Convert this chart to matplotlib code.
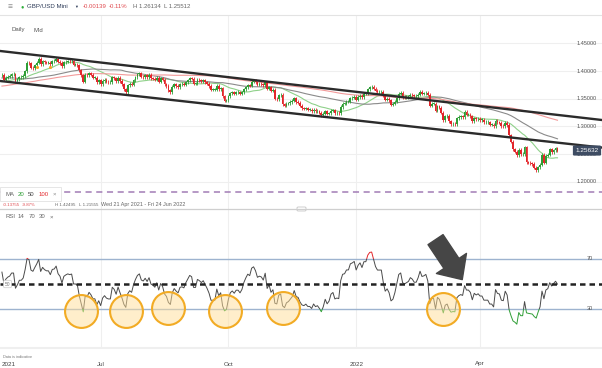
import numpy as np
import pandas as pd
import matplotlib
matplotlib.use("Agg")
import matplotlib.pyplot as plt
from matplotlib.patches import Rectangle, FancyArrowPatch, ArrowStyle, FancyBboxPatch

plt.rcParams['font.family'] = ['Liberation Sans', 'DejaVu Sans']

# GBP/USD Mini, daily closes on weekdays from 1 Dec 2020 to 27 May 2022
# (the bars before 21 Apr 2021 only feed the moving averages and the RSI)
close_px = [
    1.340, 1.343, 1.346, 1.343, 1.338, 1.337, 1.336, 1.328, 1.323, 1.334, 1.344, 1.352,
    1.362, 1.351, 1.345, 1.342, 1.352, 1.355, 1.355, 1.344, 1.347, 1.366, 1.368,            # Dec 20
    1.368, 1.357, 1.361, 1.360, 1.356, 1.356, 1.351, 1.366, 1.366, 1.368, 1.359, 1.359,
    1.363, 1.367, 1.373, 1.368, 1.367, 1.372, 1.370, 1.376, 1.371,                          # Jan 21
    1.367, 1.365, 1.367, 1.365, 1.373, 1.377, 1.383, 1.383, 1.383, 1.387, 1.393, 1.389,
    1.389, 1.397, 1.401, 1.404, 1.410, 1.415, 1.394, 1.393,                                 # Feb 21
    1.394, 1.395, 1.396, 1.389, 1.384, 1.382, 1.389, 1.393, 1.399, 1.393, 1.391, 1.389,
    1.396, 1.393, 1.387, 1.385, 1.374, 1.373, 1.378, 1.379, 1.376, 1.376, 1.378,            # Mar 21
    1.383, 1.384, 1.388, 1.386, 1.375, 1.370, 1.370, 1.375, 1.377, 1.377, 1.379, 1.384,
    1.396, 1.392,                                                                           # Apr 1-20
    1.393, 1.384, 1.388, 1.390, 1.391, 1.394, 1.394, 1.382,                                 # Apr 21-30
    1.385, 1.389, 1.389, 1.391, 1.3995, 1.415, 1.414, 1.406, 1.405, 1.410, 1.415, 1.422,
    1.412, 1.418, 1.416, 1.415, 1.415, 1.412, 1.418, 1.4185, 1.422,                        # May 21
    1.4165, 1.4145, 1.409, 1.4155, 1.417, 1.418, 1.4175, 1.418, 1.411, 1.411, 1.410, 1.401,
    1.3925, 1.3805, 1.393, 1.392, 1.396, 1.393, 1.388, 1.388, 1.380, 1.383,                 # Jun 21
    1.376, 1.382, 1.384, 1.381, 1.380, 1.380, 1.389, 1.387, 1.382, 1.388, 1.382, 1.376,
    1.367, 1.362, 1.374, 1.377, 1.375, 1.383, 1.389, 1.394, 1.396, 1.390,                   # Jul 21
    1.389, 1.392, 1.389, 1.393, 1.387, 1.386, 1.384, 1.388, 1.381, 1.387, 1.384, 1.376,
    1.373, 1.365, 1.362, 1.372, 1.376, 1.373, 1.371, 1.376, 1.3765, 1.3755,                 # Aug 21
    1.380, 1.3835, 1.387, 1.386, 1.377, 1.377, 1.384, 1.383, 1.3815, 1.383, 1.380, 1.377,
    1.373, 1.366, 1.366, 1.366, 1.373, 1.367, 1.369, 1.354, 1.346, 1.347,                   # Sep 21
    1.3545, 1.360, 1.3615, 1.359, 1.3615, 1.3615, 1.359, 1.3615, 1.367, 1.371, 1.3745,
    1.3735, 1.381, 1.3825, 1.380, 1.3755, 1.3765, 1.376, 1.374, 1.3795, 1.368,              # Oct 21
    1.371, 1.364, 1.366, 1.350, 1.349, 1.356, 1.357, 1.340, 1.337, 1.341, 1.342, 1.344,
    1.346, 1.351, 1.344, 1.343, 1.337, 1.333, 1.332, 1.333, 1.330, 1.330,                   # Nov 21
    1.3275, 1.330, 1.327, 1.3275, 1.3245, 1.3205, 1.323, 1.327, 1.3225, 1.324, 1.328,
    1.329, 1.3235, 1.324, 1.3235, 1.335, 1.3405, 1.341, 1.3445, 1.3445, 1.3505, 1.3515,
    1.353,                                                                                  # Dec 21
    1.3485, 1.353, 1.3555, 1.353, 1.359, 1.359, 1.367, 1.371, 1.3715, 1.368, 1.364, 1.362,
    1.362, 1.362, 1.355, 1.3485, 1.350, 1.347, 1.3395, 1.3405, 1.3445,                      # Jan 22
    1.351, 1.359, 1.3605, 1.353, 1.352, 1.353, 1.354, 1.357, 1.356, 1.354, 1.354, 1.357,
    1.362, 1.359, 1.3595, 1.3605, 1.357, 1.3375, 1.341, 1.341,                              # Feb 22
    1.328, 1.3365, 1.334, 1.325, 1.3115, 1.318, 1.319, 1.3095, 1.3035, 1.304, 1.3035,
    1.315, 1.317, 1.318, 1.317, 1.326, 1.321, 1.321, 1.3185, 1.3095, 1.315, 1.313, 1.314,   # Mar 22
    1.3115, 1.3115, 1.307, 1.307, 1.307, 1.303, 1.303, 1.300, 1.3105, 1.307, 1.3065,
    1.3005, 1.300, 1.306, 1.3025, 1.284, 1.272, 1.2585, 1.2545, 1.248, 1.2575,              # Apr 22
    1.2495, 1.2495, 1.2625, 1.2355, 1.234, 1.233, 1.232, 1.225, 1.2205, 1.226, 1.231,
    1.249, 1.2345, 1.247, 1.249, 1.2585, 1.253, 1.257, 1.2605, 1.25632,                     # May 22
]
first_day = '2021-04-21'
ma_periods = [20, 50, 100]
rsi_period = 14

# trend channel drawn on the chart: (date, price) anchors
upper_line = [('2021-04-21', 1.4358), ('2022-05-27', 1.3207)]
lower_line = [('2021-04-21', 1.3816), ('2022-05-27', 1.2706)]
alert_level = 1.181
event_marks = [('2021-05-17', 1.407), ('2021-05-26', 1.407)]

price_ticks = [1.20, 1.25, 1.30, 1.35, 1.40, 1.45]
month_ticks = ['2021-07-01', '2021-10-01', '2022-01-03', '2022-04-01']
month_labels = ['Jul', 'Oct', '2022', 'Apr']

# RSI dips circled on the chart, and the arrow
rsi_circles = [('2021-06-17', 28.5), ('2021-07-20', 28.5), ('2021-08-19', 30.8),
               ('2021-09-29', 28.5), ('2021-11-10', 30.5), ('2022-03-07', 30.0)]
arrow_from = ('2022-03-01', 85.5)
arrow_to = ('2022-03-18', 53.5)

GREEN = '#2f9e36'
RED = '#e3262b'
GRID = '#efefef'

dates = pd.bdate_range('2020-12-01', '2022-05-27')
s = pd.Series(close_px, index=dates)
mas = {n: s.rolling(n).mean() for n in ma_periods}
delta = s.diff()
gain = delta.clip(lower=0).ewm(alpha=1 / rsi_period, adjust=False).mean()
loss = (-delta.clip(upper=0)).ewm(alpha=1 / rsi_period, adjust=False).mean()
rsi = 100 - 100 / (1 + gain / loss)

vis = dates >= first_day
d = dates[vis]
x = np.arange(len(d))
c = s[vis].values
o = s.shift(1)[vis].values


def ix(day):
    return d.get_loc(pd.Timestamp(day))


W, H = 602, 368
fig = plt.figure(figsize=(W / 100, H / 100), dpi=100)


def fx(px):
    return px / W


def fy(py):
    return 1 - py / H


ax = fig.add_axes([0, fy(209), 1, fy(15) - fy(209)])
ax2 = fig.add_axes([0, fy(348), 1, fy(209) - fy(348)])
for a in (ax, ax2):
    a.set_xlim(-1, 310)
    for sp in a.spines.values():
        sp.set_visible(False)
    a.set_xticks([])
    a.set_yticks([])
    for t in month_ticks:
        a.axvline(ix(t), color=GRID, lw=0.8, zorder=0)

ax.set_ylim(1.1507, 1.5012)
ax2.set_ylim(-1.2, 110)

# price panel
for p in price_ticks:
    ax.axhline(p, color=GRID, lw=0.8, zorder=0)
    ax.text(fx(587), p, f'{p:.5f}', transform=ax.get_yaxis_transform(), ha='center',
            va='center', fontsize=4, color='#555555')

up = c >= o
col = np.where(up, GREEN, RED)
body_lo = np.minimum(o, c)
body_h = np.maximum(np.abs(c - o), 0.0009)
ax.vlines(x, body_lo - 0.0028, body_lo + body_h + 0.0028, colors=col, lw=0.6, zorder=3)
ax.bar(x, body_h, bottom=body_lo, width=0.9, color=col, lw=0, zorder=3)

ma_cols = {20: '#8fd18a', 50: '#8a8a8a', 100: '#f29a9a'}
for n in ma_periods:
    ax.plot(x, mas[n][vis].values, color=ma_cols[n], lw=0.8, zorder=2)

for a_pts in (upper_line, lower_line):
    (d1, p1), (d2, p2) = a_pts
    ax.axline((ix(d1), p1), (ix(d2), p2), color='#2b2b2b', lw=1.7, zorder=4)

ax.axhline(alert_level, color='#a27cb5', lw=1.1, dashes=(4, 3), zorder=2)
ax.scatter([ix(e[0]) for e in event_marks], [e[1] for e in event_marks], s=5,
           color='#f5a623', zorder=5, lw=0)

ax.text(fx(587), c[-1], f'{c[-1]:.5f}', transform=ax.get_yaxis_transform(), ha='center',
        va='center', fontsize=4.6, color='white', zorder=6,
        bbox=dict(boxstyle='round,pad=0.4,rounding_size=0.2', fc='#3e4c63', ec='none'))

# RSI panel
r = rsi[vis].values
for lo_, hi_, colr in [(30, 70, '#4a4a4a'), (70, 200, RED), (-50, 30, GREEN)]:
    ln, = ax2.plot(x, r, color=colr, lw=0.7, zorder=3)
    ln.set_clip_path(Rectangle((-10, lo_), 400, hi_ - lo_, transform=ax2.transData))

for lvl in (70, 30):
    ax2.axhline(lvl, color='#9db3cf', lw=1.0, zorder=2)
    ax2.text(fx(590), lvl, str(lvl), transform=ax2.get_yaxis_transform(), ha='center',
             va='center', fontsize=4, color='#555555')
ax2.axhline(0, color=GRID, lw=0.8, zorder=0)
ax2.axhline(50, color='#222222', lw=1.8, dashes=(2.2, 1.6), zorder=4)
ax2.text(fx(7.5), 50, '50', transform=ax2.get_yaxis_transform(), ha='center', va='center',
         fontsize=3.5, color='#777777', zorder=5,
         bbox=dict(boxstyle='round,pad=0.25', fc='white', ec='#cccccc', lw=0.5))

ax2.scatter([ix(p[0]) for p in rsi_circles], [p[1] for p in rsi_circles], s=560,
            facecolor=(1.0, 0.87, 0.6, 0.5), edgecolor='#f2ab24', lw=1.5, zorder=5)

arrow = FancyArrowPatch((ix(arrow_from[0]), arrow_from[1]), (ix(arrow_to[0]) + 0.8, arrow_to[1]),
                        arrowstyle=ArrowStyle.Simple(head_length=14, head_width=26, tail_width=13),
                        mutation_scale=1, color='#464646', shrinkA=0, shrinkB=0, zorder=6)
ax2.add_patch(arrow)

# header and panel captions
fig.add_artist(plt.Line2D([0, 1], [fy(15), fy(15)], color='#e3e3e3', lw=0.8))
fig.add_artist(plt.Line2D([0, 1], [fy(209), fy(209)], color='#cfcfcf', lw=0.9))
fig.add_artist(plt.Line2D([0, 1], [fy(348), fy(348)], color=GRID, lw=0.8))
fig.add_artist(FancyBboxPatch((fx(297), fy(211)), fx(9), fy(207) - fy(211),
                              boxstyle='round,pad=0,rounding_size=0.002', fc='white',
                              ec='#bbbbbb', lw=0.5))

fig.text(fx(10), fy(7), '≡', fontsize=6, color='#8a8a8a', ha='center', va='center')
fig.text(fx(22.5), fy(7), '●', fontsize=4, color='#2fae3a', ha='center', va='center')
fig.text(fx(27), fy(7), 'GBP/USD Mini', fontsize=4.4, color='#2d3b58', va='center')
fig.text(fx(76.5), fy(7), '▼', fontsize=2.8, color='#2d3b58', ha='center', va='center')
fig.text(fx(83), fy(7), '-0.00139', fontsize=4.3, color='#e04a4f', va='center')
fig.text(fx(109), fy(7), '-0.11%', fontsize=4.3, color='#e04a4f', va='center')
fig.text(fx(133), fy(7), 'H 1.26134  L 1.25512', fontsize=4.3, color='#666666', va='center')
fig.text(fx(12), fy(30), 'Daily', fontsize=4.3, color='#555555', va='center')
fig.text(fx(34), fy(30), 'Mid', fontsize=4.3, color='#555555', va='center')

fig.add_artist(Rectangle((0, fy(201)), fx(61), fy(187) - fy(201), fc='white',
                         ec='#e2e2e2', lw=0.6, zorder=5))
for px_, txt, colr in [(5, 'MA', '#666666'), (18, '20', GREEN), (28, '50', '#444444'),
                       (39, '100', RED), (53, '×', '#888888')]:
    fig.text(fx(px_), fy(194), txt, fontsize=4.3, color=colr, va='center', zorder=6)

for px_, txt, colr, fs in [(3, '-0.13755', '#e04a4f', 3.2), (22, '-9.87%', '#e04a4f', 3.2),
                           (55, 'H 1.42495', '#666666', 3.2), (79, 'L 1.21555', '#666666', 3.2),
                           (101, 'Wed 21 Apr 2021 - Fri 24 Jun 2022', '#666666', 3.9)]:
    fig.text(fx(px_), fy(204.5), txt, fontsize=fs, color=colr, va='center')

for px_, txt in [(5, 'RSI'), (18, '14'), (29, '70'), (39, '30'), (50, '×')]:
    fig.text(fx(px_), fy(217), txt, fontsize=4.3, color='#666666', va='center')

fig.text(fx(3), fy(357.5), 'Data is indicative', fontsize=2.8, color='#777777', va='center')
fig.text(fx(2), fy(364), '2021', fontsize=4.5, color='#444444', va='center')
for t, lab in zip(month_ticks, month_labels):
    xp = ax2.transData.transform((ix(t), 0))[0]
    fig.text(xp / fig.dpi / fig.get_figwidth(), fy(364), lab, fontsize=4.5,
             color='#444444', ha='center', va='center')

fig.savefig('out.png', dpi=100)
